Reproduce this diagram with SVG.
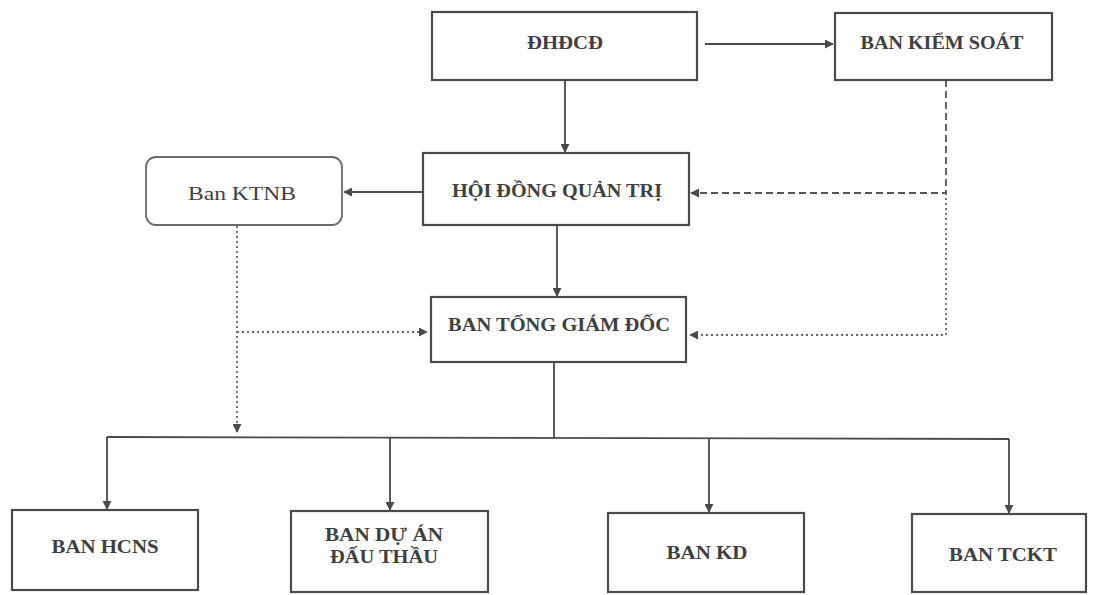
<svg xmlns="http://www.w3.org/2000/svg" width="1096" height="595" viewBox="0 0 1096 595">
<defs>
<style>
.box{fill:#fff;stroke:#4a4a4a;stroke-width:2.2}
.rbox{fill:#fff;stroke:#6a6a6a;stroke-width:1.8}
.t{font-family:"Liberation Serif","DejaVu Serif",serif;font-weight:bold;font-size:18px;fill:#404040;text-anchor:middle}
.tr{font-family:"Liberation Serif","DejaVu Serif",serif;font-size:18px;fill:#404040;text-anchor:middle}
.solid{fill:none;stroke:#4a4a4a;stroke-width:1.8}
.dash{fill:none;stroke:#555;stroke-width:1.8;stroke-dasharray:7 4}
.dot{fill:none;stroke:#666;stroke-width:1.8;stroke-dasharray:2 3}
</style>
<marker id="ah" viewBox="0 0 10 10" refX="9" refY="5" markerWidth="9" markerHeight="9" markerUnits="userSpaceOnUse" orient="auto">
<path d="M0,0 L10,5 L0,10 z" fill="#4a4a4a"/>
</marker>
</defs>
<rect width="1096" height="595" fill="#fff"/>
<g id="connectors">
<line class="solid" x1="705" y1="44" x2="833" y2="44" marker-end="url(#ah)"/>
<line class="solid" x1="565" y1="80" x2="565" y2="152" marker-end="url(#ah)"/>
<line class="solid" x1="423" y1="192" x2="344" y2="192" marker-end="url(#ah)"/>
<line class="solid" x1="557" y1="225" x2="557" y2="296" marker-end="url(#ah)"/>
<polyline class="dash" points="946,80 946,193 691,193" marker-end="url(#ah)"/>
<polyline class="dot" points="946,193 946,335 690,335" marker-end="url(#ah)"/>
<line class="dot" x1="237" y1="226" x2="237" y2="432" marker-end="url(#ah)"/>
<line class="dot" x1="237" y1="332" x2="427" y2="332" marker-end="url(#ah)"/>
<line class="solid" x1="554" y1="362" x2="554" y2="438"/>
<line class="solid" x1="107" y1="437" x2="1009" y2="439"/>
<line class="solid" x1="107" y1="437" x2="107" y2="509" marker-end="url(#ah)"/>
<line class="solid" x1="390" y1="438" x2="390" y2="510" marker-end="url(#ah)"/>
<line class="solid" x1="709" y1="438" x2="709" y2="512" marker-end="url(#ah)"/>
<line class="solid" x1="1009" y1="439" x2="1009" y2="513" marker-end="url(#ah)"/>
</g>
<g id="dhdcd">
<rect class="box" x="432" y="12" width="265" height="68"/>
<text class="t" x="565" y="49" textLength="76" lengthAdjust="spacingAndGlyphs">ĐHĐCĐ</text>
</g>
<g id="bks">
<rect class="box" x="835" y="13" width="217" height="67"/>
<text class="t" x="942" y="49" textLength="163" lengthAdjust="spacingAndGlyphs">BAN KIỂM SOÁT</text>
</g>
<g id="hdqt">
<rect class="box" x="423" y="153" width="266" height="72"/>
<text class="t" x="557" y="197" textLength="210" lengthAdjust="spacingAndGlyphs">HỘI ĐỒNG QUẢN TRỊ</text>
</g>
<g id="ktnb">
<rect class="rbox" x="146" y="157" width="196" height="68" rx="10"/>
<text class="tr" x="242" y="200" textLength="108" lengthAdjust="spacingAndGlyphs">Ban KTNB</text>
</g>
<g id="btgd">
<rect class="box" x="431" y="297" width="255" height="65"/>
<text class="t" x="559" y="331" textLength="222" lengthAdjust="spacingAndGlyphs">BAN TỔNG GIÁM ĐỐC</text>
</g>
<g id="hcns">
<rect class="box" x="12" y="510" width="186" height="80"/>
<text class="t" x="105" y="553" textLength="107" lengthAdjust="spacingAndGlyphs">BAN HCNS</text>
</g>
<g id="duan">
<rect class="box" x="291" y="511" width="197" height="81"/>
<text class="t" x="384" y="541" textLength="118" lengthAdjust="spacingAndGlyphs">BAN DỰ ÁN</text>
<text class="t" x="384" y="563" textLength="108" lengthAdjust="spacingAndGlyphs">ĐẤU THẦU</text>
</g>
<g id="kd">
<rect class="box" x="608" y="513" width="196" height="79"/>
<text class="t" x="707" y="559" textLength="81" lengthAdjust="spacingAndGlyphs">BAN KD</text>
</g>
<g id="tckt">
<rect class="box" x="912" y="514" width="174" height="78"/>
<text class="t" x="1003" y="561" textLength="108" lengthAdjust="spacingAndGlyphs">BAN TCKT</text>
</g>
</svg>
